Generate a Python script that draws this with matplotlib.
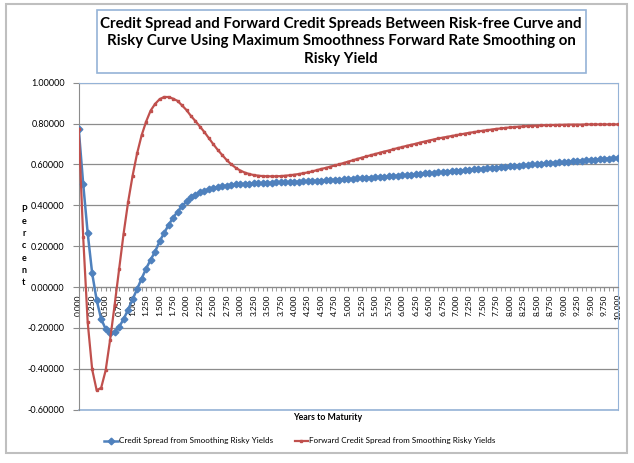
import numpy as np
import matplotlib
matplotlib.use("Agg")
import matplotlib.pyplot as plt
from matplotlib.patches import Rectangle

# maturities in months (0 .. 10 years, monthly)
maturity = np.arange(121) / 12.0
tick_labels = ["%.3f" % (i * 0.25) for i in range(41)]

credit_spread = [
    0.775, 0.505, 0.264, 0.067, -0.064, -0.156, -0.205, -0.223, -0.218, -0.195,
    -0.157, -0.110, -0.060, -0.010, 0.041, 0.090, 0.133, 0.173, 0.223, 0.264,
    0.303, 0.339, 0.369, 0.395, 0.419, 0.440, 0.452, 0.463, 0.472, 0.479,
    0.485, 0.490, 0.494, 0.497, 0.500, 0.502, 0.504, 0.505, 0.506, 0.507,
    0.508, 0.509, 0.510, 0.511, 0.512, 0.512, 0.513, 0.514, 0.515, 0.516,
    0.517, 0.518, 0.519, 0.520, 0.521, 0.522, 0.524, 0.525, 0.526, 0.527,
    0.529, 0.530, 0.532, 0.533, 0.535, 0.536, 0.538, 0.539, 0.541, 0.542,
    0.544, 0.545, 0.547, 0.549, 0.550, 0.552, 0.554, 0.556, 0.558, 0.559,
    0.561, 0.563, 0.565, 0.567, 0.568, 0.570, 0.572, 0.574, 0.576, 0.578,
    0.580, 0.581, 0.583, 0.585, 0.587, 0.589, 0.590, 0.592, 0.594, 0.596,
    0.598, 0.600, 0.601, 0.603, 0.605, 0.607, 0.609, 0.610, 0.612, 0.614,
    0.616, 0.617, 0.619, 0.621, 0.623, 0.624, 0.626, 0.628, 0.629, 0.631,
    0.633,
]

forward_spread = [
    0.775, 0.244, -0.172, -0.403, -0.505, -0.493, -0.408, -0.257, -0.088, 0.088,
    0.262, 0.416, 0.545, 0.654, 0.742, 0.809, 0.863, 0.896, 0.919, 0.930,
    0.930, 0.922, 0.911, 0.889, 0.866, 0.837, 0.812, 0.785, 0.758, 0.728,
    0.698, 0.670, 0.645, 0.620, 0.600, 0.583, 0.570, 0.560, 0.553, 0.548,
    0.545, 0.543, 0.542, 0.542, 0.542, 0.543, 0.545, 0.547, 0.550, 0.553,
    0.557, 0.561, 0.566, 0.572, 0.578, 0.583, 0.589, 0.595, 0.601, 0.607,
    0.614, 0.620, 0.627, 0.633, 0.639, 0.645, 0.651, 0.657, 0.663, 0.668,
    0.674, 0.680, 0.685, 0.691, 0.696, 0.701, 0.707, 0.712, 0.717, 0.722,
    0.727, 0.731, 0.735, 0.739, 0.743, 0.747, 0.751, 0.755, 0.758, 0.762,
    0.765, 0.768, 0.771, 0.774, 0.776, 0.779, 0.781, 0.783, 0.785, 0.786,
    0.788, 0.789, 0.790, 0.791, 0.792, 0.793, 0.793, 0.794, 0.794, 0.795,
    0.795, 0.795, 0.795, 0.796, 0.796, 0.796, 0.796, 0.796, 0.796, 0.796,
    0.796,
]

blue = "#4F81BD"
red = "#C0504D"
frame_blue = "#95B3D7"
W, H = 634, 463

plt.rcParams["font.family"] = ["Lato", "DejaVu Sans"]

fig = plt.figure(figsize=(W / 100, H / 100), dpi=100)

# outer chart frame and title box
fig.patches.append(Rectangle((6 / W, 1 - 453 / H), 621 / W, 449 / H, transform=fig.transFigure,
                             fill=False, edgecolor="#BFBFBF", lw=1.5))
fig.patches.append(Rectangle((97 / W, 1 - 73 / H), 489 / W, 63 / H, transform=fig.transFigure,
                             fill=False, edgecolor=frame_blue, lw=1.2))
fig.text(341 / W, 1 - 41.5 / H,
         "Credit Spread and Forward Credit Spreads Between Risk-free Curve and\n"
         "Risky Curve Using Maximum Smoothness Forward Rate Smoothing on\n"
         "Risky Yield",
         ha="center", va="center", fontsize=10.8, fontweight="bold", linespacing=1.3)

ax = fig.add_axes([78.7 / W, 1 - 409.7 / H, 539 / W, 327 / H])
x = np.arange(len(maturity))
ax.plot(x, credit_spread, color=blue, lw=1.8, marker="D", ms=3.4, mec=blue,
        label="Credit Spread from Smoothing Risky Yields", zorder=3)
ax.plot(x, forward_spread, color=red, lw=1.6, marker="s", ms=1.7, mec=red,
        label="Forward Credit Spread from Smoothing Risky Yields", zorder=4)

ax.set_xlim(0, 120)
ax.set_ylim(-0.6, 1.0)
ax.set_yticks(np.arange(-0.6, 1.01, 0.2))
ax.set_yticklabels(["%.5f" % v for v in np.arange(-0.6, 1.01, 0.2)], fontsize=6.5)
ax.yaxis.grid(True, color="#8C8C8C", lw=0.9)
ax.set_axisbelow(True)
ax.tick_params(axis="y", length=4, color="#8C8C8C", pad=6)

ax.spines["bottom"].set_position(("data", 0))
ax.spines["bottom"].set_color("#8C8C8C")
ax.spines["left"].set_color("#8C8C8C")
ax.spines["top"].set_color(frame_blue)
ax.spines["right"].set_color(frame_blue)
ax.set_xticks(np.arange(0, 121, 3))
ax.set_xticklabels(tick_labels, rotation=90, fontsize=6)
ax.set_xticks(np.arange(121), minor=True)
ax.tick_params(axis="x", which="both", length=3, color="#8C8C8C", pad=2)

# frame line along bottom of plot area
ax.plot([0, 1], [0, 0], transform=ax.transAxes, color=frame_blue, lw=1.2, clip_on=False)

fig.text(328 / W, 1 - 417 / H, "Years to Maturity", ha="center", va="center",
         fontsize=6.3, fontweight="bold")
fig.text(24 / W, 1 - 246 / H, "P\ne\nr\nc\ne\nn\nt", ha="center", va="center",
         fontsize=6.5, fontweight="bold", linespacing=1.45)

fig.legend(loc="center", bbox_to_anchor=(300 / W, 1 - 441 / H), ncol=2, frameon=False,
           fontsize=5.9, handlelength=1.7, handletextpad=0.1, columnspacing=2.6)

fig.savefig("out.png", dpi=100)
